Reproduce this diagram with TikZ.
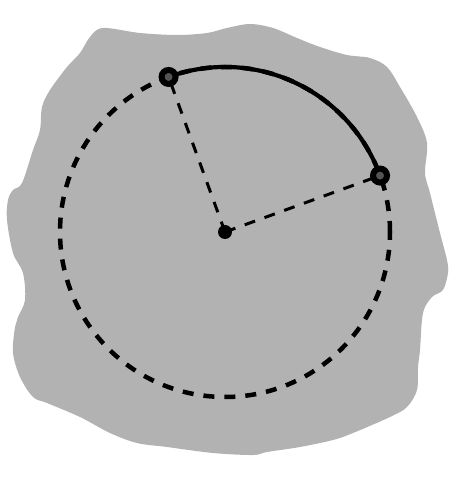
\documentclass[tikz,border=0pt]{standalone}
\usepackage{tikz}
\usetikzlibrary{positioning}

\begin{document}
\begin{tikzpicture}[x=1pt,y=1pt,
    blob/.style={fill=black!30,draw=none},
    rim/.style={line width=4.5pt,dash pattern=on 11pt off 10pt},
    spoke/.style={line width=3pt,dash pattern=on 11pt off 10pt},
    chord/.style={line width=4.2pt},
    pt/.style={circle,draw=black,line width=6pt,fill=black!67,inner sep=0pt,minimum size=14pt},
    ctr/.style={circle,fill=black,inner sep=0pt,minimum size=14pt}]
  \useasboundingbox (0,0) rectangle (466,485);
  % gray region
  \fill[blob] plot[smooth cycle,tension=0.55] coordinates {
    (103,457) (140,452) (177,450) (207,452) (227,457) (250,461) (273,457)
    (297,447) (320,438) (347,430) (370,427) (387,418) (400,398) (417,368)
    (427,342) (425,312) (430,292) (440,252) (447,225) (448,212) (443,195)
    (432,188) (423,172) (420,135) (418,118) (417,95) (407,78) (390,68)
    (353,52) (333,45) (300,38) (267,33) (253,30) (213,32) (167,38) (137,42)
    (110,52) (80,68) (47,82) (33,88) (20,108) (13,132) (15,158) (18,168)
    (25,185) (23,212) (13,232) (7,265) (8,285) (13,295) (22,302) (33,335)
    (40,355) (42,378) (50,395) (67,418) (80,432) (90,448)};
  \coordinate (o) at (225,253);
  \coordinate (a) at ([shift={(110:165)}]o);
  \coordinate (b) at ([shift={(20:165)}]o);
  \draw[rim] (o) circle[radius=165];
  \draw[chord] (a) arc[start angle=110,end angle=20,radius=165];
  \draw[spoke] (o) -- (a);
  \draw[spoke] (o) -- (b);
  \node[ctr] (centre) at (o) {};
  \node[pt] (pa) at (a) {};
  \node[pt] (pb) at (b) {};
\end{tikzpicture}
\end{document}
